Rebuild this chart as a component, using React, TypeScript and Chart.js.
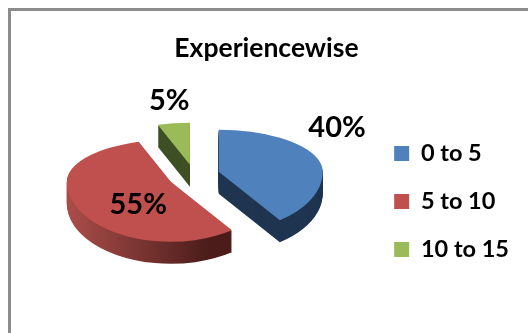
import React, { useEffect, useRef } from "react";
import { Chart, registerables } from "chart.js";

Chart.register(...registerables);

const categories = ["0 to 5", "5 to 10", "10 to 15"];
const shares = [40, 55, 5];
const topColors = ["#4F81BD", "#C0504D", "#9BBB59"];
const chartTitle = "Experiencewise";

const FONT = "Lato, Carlito, 'Open Sans', sans-serif";

// Tilted-disc projection: the far half of the pie is flattened more than the near half.
const projection = {
  cx: 194,
  cy: 175,
  rx: 104,
  farRy: 42,
  nearRy: 60,
  depth: 22,
  explode: 26,
};
const labelNudges = [
  { dx: 59, dy: -36 },
  { dx: 23, dy: 6 },
  { dx: -11, dy: -39 },
];

const wallFill = (ctx: CanvasRenderingContext2D, index: number) => {
  if (index === 0) return "#1F3550";
  if (index === 2) return "#3F5024";
  const g = ctx.createLinearGradient(65, 0, 240, 0);
  g.addColorStop(0, "#A84C48");
  g.addColorStop(0.5, "#7A3532");
  g.addColorStop(1, "#4B1C1A");
  return g;
};

const tiltedPie = {
  id: "tiltedPie",
  beforeDatasetsDraw(chart: any) {
    const { ctx, width, height } = chart;
    const arcs = chart.getDatasetMeta(0).data;
    const { cx, cy, rx, farRy, nearRy, depth, explode } = projection;
    const radius = arcs[0].outerRadius;

    // Apex of an exploded slice after projection.
    const apex = (arc: any) => {
      const mid = (arc.startAngle + arc.endAngle) / 2;
      const uy = Math.sin(mid);
      return {
        x: cx + Math.cos(mid) * explode,
        y: cy + uy * explode * ((uy < 0 ? farRy : nearRy) / rx),
      };
    };

    const paint = (arc: any, dy: number) => {
      const a = apex(arc);
      const pivot = a.y + dy;
      const halves = [
        { top: 0, h: pivot + 0.5, ry: farRy },
        { top: pivot, h: height, ry: nearRy },
      ];
      for (const half of halves) {
        ctx.save();
        ctx.beginPath();
        ctx.rect(0, half.top, width, half.h);
        ctx.clip();
        ctx.translate(a.x, pivot);
        ctx.scale(rx / radius, half.ry / radius);
        ctx.translate(-arc.x, -arc.y);
        arc.draw(ctx);
        ctx.restore();
      }
    };

    // Side walls first, stacked from the bottom of the disc upward.
    arcs.forEach((arc: any, i: number) => {
      const original = arc.options;
      arc.options = { ...original, backgroundColor: wallFill(ctx, i), borderWidth: 0 };
      for (let d = depth; d >= 1; d--) paint(arc, d);
      arc.options = original;
    });
    arcs.forEach((arc: any) => paint(arc, 0));

    // Percent labels, anchored on each slice's projected centre.
    ctx.save();
    ctx.fillStyle = "#000";
    ctx.font = `bold 29px ${FONT}`;
    ctx.textAlign = "center";
    ctx.textBaseline = "middle";
    arcs.forEach((arc: any, i: number) => {
      const mid = (arc.startAngle + arc.endAngle) / 2;
      const r = rx * 0.6 + explode;
      const uy = Math.sin(mid);
      const x = cx + Math.cos(mid) * r;
      const y = cy + uy * r * ((uy < 0 ? farRy : nearRy) / rx);
      ctx.fillText(`${shares[i]}%`, x + labelNudges[i].dx, y + labelNudges[i].dy);
    });
    ctx.restore();
    return false;
  },
};

export default function App() {
  const ref = useRef<HTMLCanvasElement>(null);
  useEffect(() => {
    document.body.style.margin = "0";
    const chart = new Chart(ref.current as HTMLCanvasElement, {
      type: "pie",
      data: {
        labels: categories,
        datasets: [
          {
            data: shares,
            backgroundColor: topColors,
            borderWidth: 0,
          },
        ],
      },
      options: {
        responsive: false,
        animation: false,
        events: [],
        layout: { padding: { left: 14, right: 9, top: 24, bottom: 0 } },
        plugins: {
          title: {
            display: true,
            text: chartTitle,
            color: "#000",
            font: { family: FONT, size: 26.5, weight: "bold" },
            padding: { top: 9, bottom: 5 },
          },
          legend: {
            position: "right",
            align: "center",
            fullSize: false,
            labels: {
              boxWidth: 15,
              boxHeight: 15,
              padding: 24.5,
              color: "#000",
              font: { family: FONT, size: 23.5, weight: "bold" },
            },
          },
          tooltip: { enabled: false },
        },
      },
      plugins: [tiltedPie],
    } as any);
    return () => chart.destroy();
  }, []);
  return (
    <div style={{ position: "relative", width: 528, height: 333, overflow: "hidden", background: "#fff" }}>
      <canvas ref={ref} width={528} height={333} style={{ display: "block" }} />
      <div
        style={{
          position: "absolute",
          left: 8,
          top: 8,
          width: 600,
          height: 400,
          borderLeft: "3px solid #8C8C8C",
          borderTop: "3px solid #8C8C8C",
        }}
      />
    </div>
  );
}
